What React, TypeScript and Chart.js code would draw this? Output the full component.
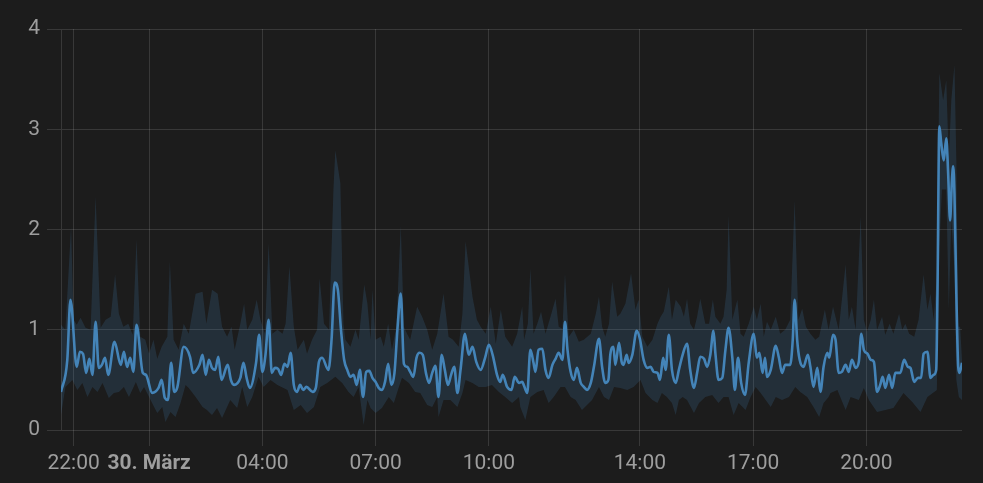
import React, { useEffect, useRef } from "react";
import { Chart, registerables } from "chart.js";

Chart.register(...registerables);

// Time axis: minutes elapsed since 29 March 22:00 (CET); DST switch at 02:00 -> 03:00
const TICK_MINUTES = [0, 120, 300, 480, 660, 900, 1080, 1260];
const TICK_LABELS = ["22:00", "30. März", "04:00", "07:00", "10:00", "14:00", "17:00", "20:00"];
const BOLD_TICK = "30. März";
const X_MIN = -20;
const X_MAX = 1412;
const Y_MIN = 0;
const Y_MAX = 4;

// Mean series
const meanT = [-20,-10,-5,5,10,15,20,25,30,35,40,45,50,55,65,75,80,85,90,95,100,110,115,125,135,140,145,150,155,160,165,175,185,190,200,205,210,215,220,225,230,235,245,250,255,265,270,275,280,290,295,300,305,310,315,320,325,330,335,340,345,350,355,360,365,370,380,385,390,395,405,410,415,420,425,430,435,440,445,450,455,460,465,470,475,480,485,490,495,500,505,510,515,520,525,530,535,540,545,550,555,560,565,570,575,580,585,590,595,600,605,610,615,622,628,634,640,647,654,660,666,673,678,682,689,696,701,708,713,716,721,726,731,734,739,745,750,755,761,766,771,777,781,785,790,795,800,806,811,816,822,827,835,840,845,850,853,858,861,867,871,874,879,882,888,895,900,906,912,917,922,928,932,937,941,946,951,957,962,968,975,980,986,991,996,1002,1007,1012,1017,1020,1025,1031,1036,1041,1047,1051,1056,1061,1067,1073,1081,1086,1090,1095,1099,1102,1108,1116,1121,1126,1131,1139,1143,1146,1150,1154,1160,1167,1171,1176,1182,1187,1192,1198,1201,1207,1211,1216,1221,1227,1232,1237,1243,1248,1252,1256,1262,1267,1272,1277,1282,1286,1290,1296,1301,1306,1314,1320,1326,1330,1336,1342,1347,1351,1357,1362,1367,1371,1373,1376,1379,1383,1387,1390,1393,1396,1398,1400,1403,1406,1408,1412];
const meanV = [0.38,0.70,1.30,0.63,0.78,0.76,0.57,0.71,0.55,1.08,0.62,0.65,0.72,0.55,0.88,0.65,0.78,0.63,0.72,0.58,1.05,0.57,0.55,0.37,0.42,0.50,0.32,0.30,0.67,0.38,0.43,0.83,0.73,0.57,0.65,0.75,0.55,0.70,0.62,0.60,0.73,0.50,0.65,0.50,0.45,0.52,0.67,0.52,0.42,0.67,0.95,0.58,0.75,1.10,0.57,0.62,0.61,0.55,0.66,0.63,0.77,0.45,0.38,0.45,0.40,0.43,0.38,0.42,0.68,0.72,0.60,0.90,1.47,1.40,1.00,0.70,0.60,0.53,0.55,0.45,0.60,0.33,0.58,0.59,0.52,0.48,0.42,0.40,0.48,0.66,0.45,0.57,1.03,1.36,0.66,0.63,0.58,0.53,0.72,0.77,0.75,0.57,0.47,0.57,0.64,0.33,0.75,0.60,0.45,0.55,0.63,0.37,0.60,0.96,0.75,0.83,0.68,0.60,0.72,0.85,0.75,0.55,0.48,0.55,0.43,0.40,0.53,0.47,0.48,0.44,0.37,0.80,0.67,0.58,0.80,0.81,0.60,0.52,0.65,0.71,0.77,0.70,1.08,0.80,0.58,0.50,0.62,0.47,0.43,0.40,0.47,0.63,0.91,0.63,0.47,0.50,0.75,0.83,0.65,0.87,0.68,0.65,0.75,0.67,0.75,0.99,0.91,0.70,0.62,0.63,0.58,0.57,0.50,0.72,0.60,0.95,0.60,0.47,0.60,0.75,0.86,0.60,0.42,0.57,0.73,0.71,0.63,0.75,0.99,0.77,0.50,0.52,0.80,1.02,0.72,0.40,0.72,0.47,0.35,0.67,0.96,0.72,0.77,0.57,0.72,0.53,0.60,0.84,0.72,0.57,0.65,0.65,0.90,1.30,0.90,0.70,0.63,0.75,0.63,0.43,0.62,0.38,0.63,0.77,0.72,0.95,0.90,0.57,0.58,0.65,0.58,0.70,0.62,0.68,0.96,0.80,0.76,0.70,0.68,0.38,0.45,0.53,0.42,0.55,0.42,0.57,0.57,0.70,0.63,0.62,0.48,0.52,0.52,0.76,0.78,0.52,0.55,0.60,1.36,3.03,2.86,2.69,2.91,2.56,2.09,2.49,2.63,2.36,1.36,0.63,0.57,0.67];

// Max series (upper edge of band)
const maxT = [-20,-13,-4,0,5,11,19,27,35,43,51,59,66,72,79,87,94,100,106,114,120,127,133,140,149,153,159,167,175,183,194,205,211,220,229,236,244,251,256,265,271,276,284,291,297,304,310,316,324,332,337,343,350,356,366,371,379,387,391,398,406,413,416,424,429,432,440,448,453,462,467,472,475,480,488,493,500,506,513,520,525,530,535,546,554,562,570,578,588,596,603,612,618,623,628,634,641,647,655,663,671,679,686,697,705,713,716,722,726,731,737,743,750,758,766,771,777,781,787,795,803,811,822,830,835,840,845,851,856,864,869,877,886,893,898,904,912,920,928,933,938,946,951,957,965,970,975,980,986,991,996,1004,1010,1016,1020,1028,1033,1038,1041,1047,1055,1060,1065,1073,1081,1086,1092,1097,1102,1108,1116,1123,1131,1139,1146,1152,1158,1164,1171,1179,1185,1194,1200,1207,1216,1227,1232,1237,1243,1251,1256,1261,1267,1272,1277,1285,1290,1297,1303,1312,1317,1322,1328,1336,1343,1351,1357,1362,1367,1372,1376,1382,1387,1391,1395,1400,1403,1406,1409,1412];
const maxV = [1.05,1.00,2.03,1.10,1.05,1.12,1.02,1.00,2.33,1.02,1.10,1.13,1.55,1.16,1.03,1.06,0.95,1.90,0.93,0.90,0.76,0.90,0.71,0.83,0.93,1.68,0.90,0.80,1.06,0.96,1.36,1.38,1.06,1.40,1.36,1.03,0.93,1.03,0.80,1.06,1.26,1.00,1.10,1.30,1.10,0.96,1.86,0.96,1.00,0.96,1.06,1.63,1.03,0.80,0.90,0.76,0.90,1.00,1.51,1.06,1.00,2.40,2.79,2.46,1.06,0.90,0.83,1.00,0.90,1.45,1.26,0.90,1.40,0.90,0.93,0.83,1.06,0.80,1.03,2.04,1.03,0.96,0.90,1.23,1.13,1.00,0.80,0.96,1.36,0.93,0.90,0.83,1.16,1.88,1.63,1.33,1.10,1.03,0.96,1.23,0.86,1.20,0.93,0.83,0.96,1.23,0.90,1.06,1.61,0.96,1.06,1.18,0.96,1.13,1.31,1.03,1.01,1.56,0.93,1.00,0.88,0.90,0.96,1.16,1.33,1.03,0.93,1.06,1.48,1.13,1.16,1.26,1.56,1.20,1.30,0.93,0.83,0.90,1.06,1.13,1.18,1.43,1.10,1.30,1.23,1.13,1.31,1.06,1.00,1.13,1.31,1.06,1.06,1.30,1.13,1.06,1.13,1.40,2.14,1.10,1.30,0.96,0.93,1.06,1.23,1.10,1.26,0.93,1.08,1.00,1.13,0.96,1.00,1.10,2.29,1.10,1.21,1.03,0.96,0.90,0.93,1.20,1.00,1.23,1.00,1.65,1.10,1.23,1.00,2.13,1.10,0.98,1.10,1.30,1.00,1.13,0.95,1.06,0.96,1.16,1.00,1.06,0.96,0.93,1.10,1.55,1.20,1.36,1.10,1.53,3.56,3.29,3.49,2.69,3.29,3.64,2.69,1.03,1.03,0.70];

// Min series (lower edge of band)
const minT = [-20,-13,-2,6,14,22,30,38,46,56,64,72,80,88,99,106,112,120,128,133,141,146,154,162,170,178,183,194,205,212,220,228,236,249,260,268,276,284,294,302,313,324,340,350,361,371,382,392,403,416,427,437,445,453,461,467,472,480,490,501,509,517,522,533,543,551,562,570,578,580,588,599,610,618,623,634,644,655,665,676,686,697,708,710,718,726,737,747,755,763,774,781,790,798,808,816,824,835,843,851,859,869,880,890,901,909,920,928,935,943,951,957,962,968,975,986,994,1004,1015,1025,1033,1041,1049,1057,1068,1076,1084,1092,1100,1108,1116,1126,1137,1147,1155,1166,1176,1185,1192,1200,1203,1214,1227,1235,1248,1256,1264,1277,1290,1303,1319,1333,1346,1357,1372,1376,1380,1387,1391,1395,1400,1403,1407,1412];
const minV = [0.15,0.43,0.50,0.40,0.47,0.33,0.43,0.38,0.47,0.32,0.37,0.38,0.43,0.33,0.48,0.37,0.43,0.33,0.23,0.17,0.23,0.08,0.18,0.13,0.27,0.45,0.42,0.33,0.23,0.20,0.15,0.22,0.12,0.30,0.22,0.43,0.23,0.33,0.53,0.43,0.50,0.45,0.40,0.20,0.25,0.17,0.23,0.43,0.47,0.53,0.47,0.38,0.33,0.43,0.05,0.30,0.22,0.17,0.22,0.33,0.27,0.43,0.52,0.47,0.38,0.37,0.25,0.23,0.33,0.13,0.30,0.30,0.23,0.37,0.50,0.47,0.43,0.43,0.45,0.38,0.33,0.27,0.33,0.23,0.10,0.33,0.38,0.40,0.27,0.33,0.43,0.43,0.33,0.30,0.20,0.25,0.30,0.43,0.33,0.30,0.43,0.42,0.40,0.43,0.50,0.37,0.30,0.27,0.37,0.33,0.27,0.15,0.30,0.33,0.30,0.17,0.27,0.33,0.35,0.27,0.33,0.33,0.15,0.27,0.20,0.33,0.43,0.37,0.30,0.23,0.33,0.30,0.33,0.43,0.38,0.33,0.23,0.13,0.27,0.33,0.37,0.40,0.20,0.33,0.30,0.42,0.30,0.18,0.20,0.22,0.37,0.28,0.18,0.33,0.40,1.80,2.40,2.40,1.20,2.10,1.60,0.50,0.33,0.30];

const BG = "#1c1c1c";
const GRID = "rgba(225,225,225,0.14)";
const TEXT = "#9e9e9e";
const LINE = "rgb(68,132,184)";
const BAND = "rgba(68,132,184,0.19)";

const toPoints = (t: number[], v: number[]) => t.map((x, i) => ({ x, y: v[i] }));

const bgPlugin = {
  id: "bg",
  beforeDraw(chart: any) {
    const c = chart.ctx;
    c.save();
    c.fillStyle = BG;
    c.fillRect(0, 0, chart.width, chart.height);
    c.restore();
  },
};

export default function App() {
  const ref = useRef<HTMLCanvasElement | null>(null);
  useEffect(() => {
    document.body.style.margin = "0";
    document.body.style.background = BG;
    const chart = new Chart(ref.current as HTMLCanvasElement, {
      type: "line",
      data: {
        datasets: [
          {
            label: "mean",
            data: toPoints(meanT, meanV),
            borderColor: LINE,
            borderWidth: 2.6,
            pointRadius: 0,
            cubicInterpolationMode: "monotone",
            fill: false,
          },
          {
            label: "max",
            data: toPoints(maxT, maxV),
            borderWidth: 0,
            borderColor: "transparent",
            backgroundColor: BAND,
            pointRadius: 0,
            tension: 0,
            fill: "+1",
          },
          {
            label: "min",
            data: toPoints(minT, minV),
            borderWidth: 0,
            borderColor: "transparent",
            pointRadius: 0,
            tension: 0,
            fill: false,
          },
        ],
      },
      options: {
        animation: false,
        responsive: true,
        maintainAspectRatio: false,
        layout: { padding: { top: 29, right: 21, left: 0, bottom: 0 } },
        plugins: { legend: { display: false }, tooltip: { enabled: false } },
        scales: {
          x: {
            type: "linear",
            min: X_MIN,
            max: X_MAX,
            afterBuildTicks: (scale: any) => {
              scale.ticks = TICK_MINUTES.map((v) => ({ value: v }));
            },
            afterFit: (scale: any) => {
              scale.height = 53;
            },
            ticks: {
              autoSkip: false,
              maxRotation: 0,
              color: TEXT,
              padding: 5,
              font: (ctx: any) => ({
                family: "Roboto",
                size: 21,
                weight: ctx.tick && TICK_LABELS[TICK_MINUTES.indexOf(ctx.tick.value)] === BOLD_TICK ? "bold" : "normal",
              }),
              callback: (value: any) => {
                const i = TICK_MINUTES.indexOf(Number(value));
                return i >= 0 ? TICK_LABELS[i] : "";
              },
            },
            grid: { color: GRID, tickLength: 16, lineWidth: 1 },
            border: { display: false },
          },
          y: {
            min: Y_MIN,
            max: Y_MAX,
            afterFit: (scale: any) => {
              scale.width = 61;
            },
            ticks: {
              stepSize: 1,
              color: TEXT,
              padding: 7,
              font: { family: "Roboto", size: 21 },
            },
            grid: { color: GRID, tickLength: 14, lineWidth: 1 },
            border: { display: true, color: GRID },
          },
        },
      },
      plugins: [bgPlugin],
    });
    return () => chart.destroy();
  }, []);
  return (
    <div style={{ position: "fixed", left: 0, top: 0, width: 983, height: 483, background: BG }}>
      <canvas ref={ref} />
    </div>
  );
}
